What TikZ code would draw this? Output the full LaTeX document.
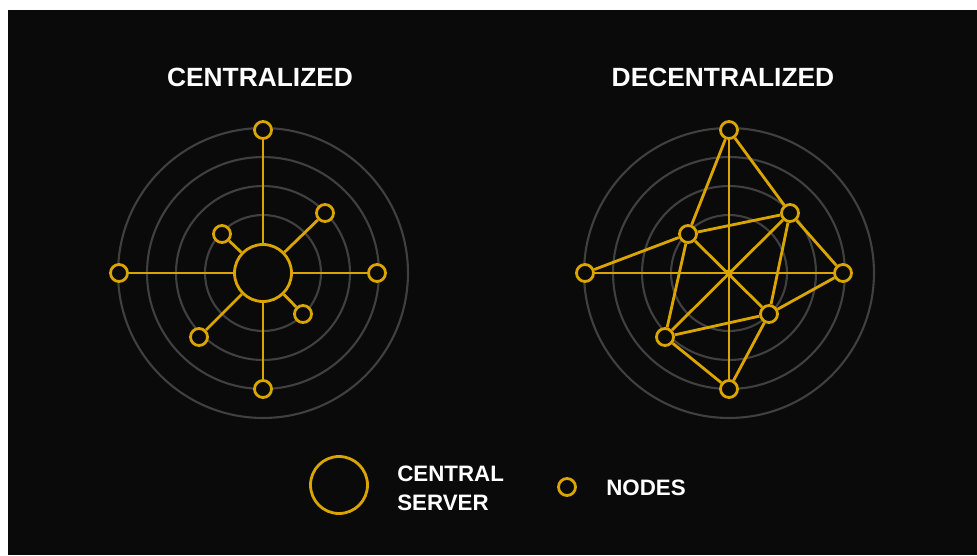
\documentclass[tikz,border=0pt]{standalone}
\usepackage{fontspec}
\setmainfont{Liberation Sans}
\definecolor{bgdark}{HTML}{0A0A0A}
\definecolor{gold}{HTML}{DBA500}
\definecolor{ringgray}{HTML}{404040}
\tikzset{
 peer/.style={circle,draw=gold,line width=1.6pt,fill=bgdark,minimum size=0.34cm,inner sep=0pt},
 server/.style={peer,minimum size=1.14cm},
 link/.style={gold,line width=1.6pt},
 ring/.style={ringgray,line width=1.2pt},
 title/.style={text=white,inner sep=0pt,font=\bfseries\fontsize{15}{18}\selectfont},
 legend/.style={text=white,inner sep=0pt,anchor=west,align=left,font=\bfseries\fontsize{12.7}{16.5}\selectfont}
}
\begin{document}
\begin{tikzpicture}[x=0.02cm,y=-0.02cm]
 \useasboundingbox (0,0) rectangle (977,555);
 \fill[white](0,0) rectangle (977,555);
 \fill[bgdark](8,10) rectangle (977,555);
 % titles
 \node[title] (tcen) at (260,77) {CENTRALIZED};
 \node[title] (tdec) at (723,77) {DECENTRALIZED};
 % rings
 \foreach \r in {1.16,1.74,2.32,2.9}{
  \draw[ring](263,273) circle (\r cm);
  \draw[ring](729,273) circle (\r cm);
 }
 % centralized
 \node[server] (srv) at (263,273) {};
 \node[peer] (cn) at (263,130) {};
 \node[peer] (cs) at (263,389) {};
 \node[peer] (cw) at (119,273) {};
 \node[peer] (ce) at (377,273) {};
 \node[peer] (cne) at (325,213) {};
 \node[peer] (cnw) at (222,234) {};
 \node[peer] (csw) at (199,337) {};
 \node[peer] (cse) at (303,314) {};
 \foreach \p in {cn,cs,cw,ce,cne,cnw,csw,cse}
  \draw[link](srv)--(\p);
 % decentralized
 \coordinate (mid) at (729,273);
 \node[peer] (dn) at (729,130) {};
 \node[peer] (ds) at (729,389) {};
 \node[peer] (dw) at (585,273) {};
 \node[peer] (de) at (843,273) {};
 \node[peer] (dne) at (790,213) {};
 \node[peer] (dnw) at (688,234) {};
 \node[peer] (dsw) at (665,337) {};
 \node[peer] (dse) at (769,314) {};
 \foreach \a/\b in {dn/ds,dw/de,dn/dnw,dn/dne,dnw/dne,dw/dnw,dne/de,dne/dsw,dnw/dse,dnw/dsw,dne/dse,dsw/dse,de/dse,dsw/ds,dse/ds}
  \draw[link](\a)--(\b);
 \fill[gold](mid) circle (2.2pt);
 % legend
 \node[server] (lsrv) at (339,485) {};
 \node[legend] (lsrvtxt) at (397,488) {CENTRAL\\SERVER};
 \node[peer] (lpeer) at (567,487) {};
 \node[legend] (lpeertxt) at (606,488) {NODES};
\end{tikzpicture}
\end{document}
